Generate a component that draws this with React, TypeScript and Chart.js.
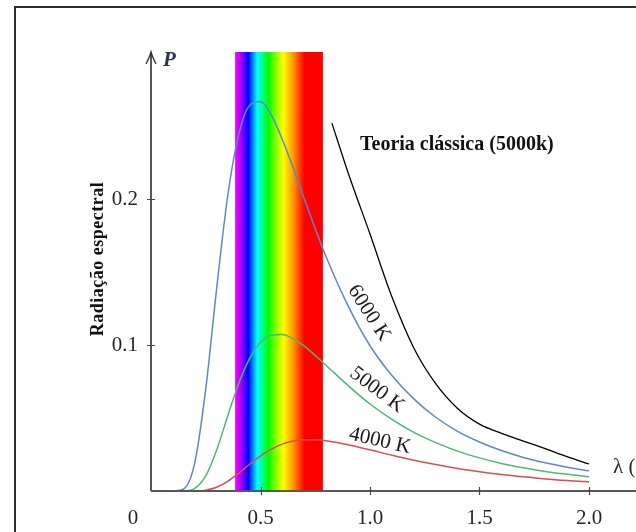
import React, { useEffect, useRef } from "react";
import { Chart, registerables } from "chart.js";

Chart.register(...registerables);

// wavelength (µm) sample points shared by the three black-body curves
const lambda = [0.1, 0.15, 0.2, 0.25, 0.3, 0.35, 0.4, 0.45, 0.5, 0.55, 0.6, 0.65, 0.7, 0.75, 0.8, 0.9, 1.0, 1.1, 1.2, 1.3, 1.4, 1.5, 1.6, 1.7, 1.8, 1.9, 2.0];
const p6000 = [0.0, 0.0015, 0.0194, 0.0699, 0.139, 0.2017, 0.2439, 0.2641, 0.2668, 0.2572, 0.2406, 0.221, 0.2, 0.1796, 0.1603, 0.1268, 0.0995, 0.0791, 0.0631, 0.0505, 0.0409, 0.0336, 0.0277, 0.023, 0.0193, 0.0163, 0.0138];
const p5000 = [0.0, 0.0001, 0.0018, 0.0103, 0.0281, 0.0512, 0.0734, 0.0907, 0.1017, 0.1067, 0.1072, 0.1042, 0.0992, 0.0928, 0.086, 0.0722, 0.0596, 0.049, 0.0402, 0.0331, 0.0273, 0.0227, 0.0189, 0.0159, 0.0134, 0.0114, 0.0098];
const p4000 = [0.0, 0.0, 0.0, 0.0006, 0.0026, 0.0066, 0.0121, 0.0183, 0.0241, 0.0287, 0.0321, 0.0342, 0.0351, 0.0351, 0.0344, 0.0317, 0.0282, 0.0245, 0.0211, 0.0181, 0.0154, 0.0132, 0.0113, 0.0097, 0.0083, 0.0072, 0.0063];

// classical theory (Rayleigh-Jeans, 5000 K)
const classicLambda = [0.826, 0.9, 1.0, 1.1, 1.2, 1.3, 1.4, 1.5, 1.6, 1.7, 1.8, 1.9, 2.0];
const classicP = [0.252, 0.218, 0.176, 0.133, 0.098, 0.0735, 0.0565, 0.0458, 0.0395, 0.0342, 0.029, 0.0235, 0.0185];

// axis ticks
const xTickValues = [0.5, 1.0, 1.5, 2.0];
const xTickLabels = ["0.5", "1.0", "1.5", "2.0"];
const yTickValues = [0.1, 0.2];
const yTickLabels = ["0.1", "0.2"];

// visible spectrum band (µm)
const spectrumRange = [0.384, 0.785];

const seriesLabels = ["6000 K", "5000 K", "4000 K", "Teoria clássica (5000k)"];

const toPoints = (xs: number[], ys: number[]) => xs.map((x, i) => ({ x, y: ys[i] }));

const TEXT = "#262626";
const SERIF = '"Liberation Serif", "DejaVu Serif", serif';

const decorPlugin = {
  id: "decor",
  beforeDatasetsDraw(chart: any) {
    const ctx = chart.ctx;
    const xs = chart.scales.x;
    const ys = chart.scales.y;
    const x0 = xs.getPixelForValue(spectrumRange[0]);
    const x1 = xs.getPixelForValue(spectrumRange[1]);
    const yTop = ys.getPixelForValue(ys.max) - 1;
    const yBot = ys.getPixelForValue(0);
    const g = ctx.createLinearGradient(x0, 0, x1, 0);
    g.addColorStop(0, "#ff00ff");
    g.addColorStop(0.07, "#a000ff");
    g.addColorStop(0.15, "#0000ff");
    g.addColorStop(0.25, "#00ffff");
    g.addColorStop(0.38, "#00ff00");
    g.addColorStop(0.46, "#80ff00");
    g.addColorStop(0.55, "#ffff00");
    g.addColorStop(0.66, "#ff9900");
    g.addColorStop(0.79, "#ff0000");
    g.addColorStop(1, "#ff0000");
    ctx.save();
    ctx.fillStyle = g;
    ctx.fillRect(x0, yTop, x1 - x0, yBot - yTop);
    ctx.restore();
  },
  afterDatasetsDraw(chart: any) {
    const ctx = chart.ctx;
    const xs = chart.scales.x;
    const ys = chart.scales.y;
    const ox = xs.getPixelForValue(0);
    const oy = ys.getPixelForValue(0);
    const top = ys.getPixelForValue(ys.max) - 1;
    const W = chart.width;
    ctx.save();

    // frame
    ctx.strokeStyle = "#2e2e2e";
    ctx.lineWidth = 2;
    ctx.beginPath();
    ctx.moveTo(15, chart.height);
    ctx.lineTo(15, 7);
    ctx.lineTo(W, 7);
    ctx.stroke();

    // axes
    ctx.strokeStyle = "#585858";
    ctx.lineWidth = 2;
    ctx.beginPath();
    ctx.moveTo(ox, oy);
    ctx.lineTo(W, oy);
    ctx.moveTo(ox, oy);
    ctx.lineTo(ox, top);
    ctx.stroke();
    // arrow head
    ctx.lineWidth = 1.3;
    ctx.strokeStyle = "#333";
    ctx.beginPath();
    ctx.moveTo(ox - 5, top + 12);
    ctx.quadraticCurveTo(ox - 1, top + 4, ox, top);
    ctx.quadraticCurveTo(ox + 1, top + 4, ox + 5, top + 12);
    ctx.stroke();

    // ticks
    ctx.lineWidth = 1.2;
    ctx.strokeStyle = "#444";
    ctx.beginPath();
    xTickValues.forEach((v) => {
      const px = Math.round(xs.getPixelForValue(v)) + 0.5;
      ctx.moveTo(px, oy - 4);
      ctx.lineTo(px, oy + 4);
    });
    yTickValues.forEach((v) => {
      const py = Math.round(ys.getPixelForValue(v)) + 0.5;
      ctx.moveTo(ox - 4, py);
      ctx.lineTo(ox + 4, py);
    });
    ctx.stroke();

    // tick labels
    ctx.fillStyle = TEXT;
    ctx.font = `21px ${SERIF}`;
    ctx.textBaseline = "middle";
    ctx.textAlign = "center";
    xTickValues.forEach((v, i) => {
      ctx.fillText(xTickLabels[i], xs.getPixelForValue(v), oy + 27);
    });
    ctx.fillText("0", ox - 18, oy + 27);
    ctx.textAlign = "right";
    yTickValues.forEach((v, i) => {
      ctx.fillText(yTickLabels[i], ox - 13, ys.getPixelForValue(v));
    });

    // axis names
    ctx.textAlign = "left";
    ctx.font = `italic bold 21px ${SERIF}`;
    ctx.fillStyle = "#2a3350";
    ctx.fillText("P", ox + 12, top + 9);
    ctx.font = `21px ${SERIF}`;
    ctx.fillStyle = TEXT;
    ctx.fillText("λ (µm)", 613, 467);

    // y title
    ctx.save();
    ctx.translate(98, 259);
    ctx.rotate(-Math.PI / 2);
    ctx.font = `bold 18px ${SERIF}`;
    (ctx as any).letterSpacing = "0.5px";
    ctx.textAlign = "center";
    ctx.fillStyle = "#111";
    ctx.fillText("Radiação espectral", 0, 0);
    ctx.restore();

    // curve labels
    const rot = (text: string, x: number, y: number, deg: number) => {
      ctx.save();
      ctx.translate(x, y);
      ctx.rotate((deg * Math.PI) / 180);
      ctx.font = `21px ${SERIF}`;
      ctx.textAlign = "center";
      ctx.fillStyle = "#1a1a1a";
      ctx.fillText(text, 0, 0);
      ctx.restore();
    };
    rot(seriesLabels[0], 369, 313, 57);
    rot(seriesLabels[1], 377, 390, 37);
    rot(seriesLabels[2], 380, 441, 13);

    ctx.font = `bold 20px ${SERIF}`;
    ctx.textAlign = "left";
    ctx.fillStyle = "#111";
    ctx.fillText(seriesLabels[3], 360, 145);

    ctx.restore();
  },
};

export default function App() {
  const ref = useRef<HTMLCanvasElement | null>(null);
  useEffect(() => {
    if (!ref.current) return;
    const common = {
      pointRadius: 0,
      borderWidth: 1.5,
      fill: false,
      cubicInterpolationMode: "monotone" as const,
    };
    const chart = new Chart(ref.current, {
      type: "line",
      data: {
        datasets: [
          { ...common, label: seriesLabels[3], data: toPoints(classicLambda, classicP), borderColor: "#000000", borderWidth: 1.3 },
          { ...common, label: seriesLabels[0], data: toPoints(lambda, p6000), borderColor: "#5a88cc" },
          { ...common, label: seriesLabels[1], data: toPoints(lambda, p5000), borderColor: "#4db873" },
          { ...common, label: seriesLabels[2], data: toPoints(lambda, p4000), borderColor: "#dc4c50" },
        ],
      },
      options: {
        responsive: false,
        animation: false,
        devicePixelRatio: 1,
        layout: { padding: { left: 151, right: 3.2, top: 53, bottom: 41 } },
        scales: {
          x: { type: "linear", min: 0, max: 2.2, display: false },
          y: { type: "linear", min: 0, max: 0.3, display: false },
        },
        plugins: { legend: { display: false }, tooltip: { enabled: false } },
      },
      plugins: [decorPlugin],
    });
    return () => chart.destroy();
  }, []);
  return (
    <canvas
      ref={ref}
      width={636}
      height={532}
      style={{ position: "absolute", left: 0, top: 0, background: "#fff" }}
    />
  );
}
